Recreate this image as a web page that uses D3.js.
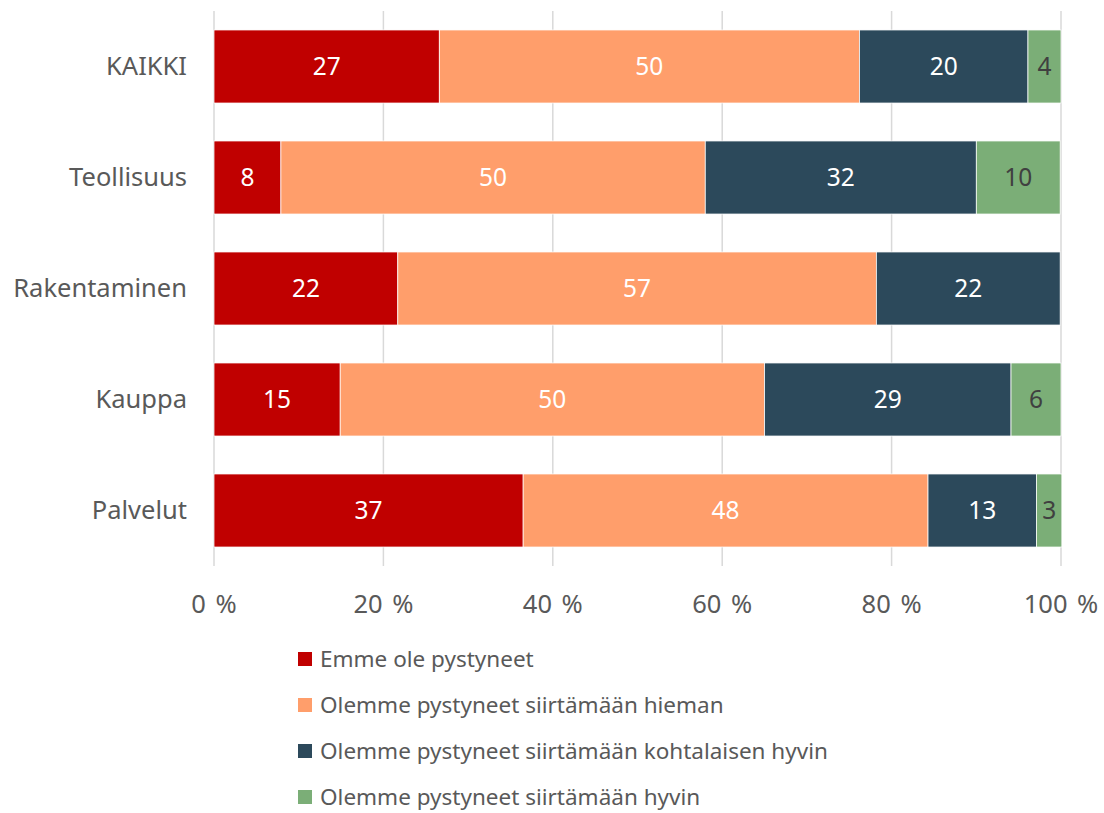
<!DOCTYPE html>
<html lang="fi">
<head>
<meta charset="utf-8">
<title>Siirtäminen toimialoittain</title>
<style>
  body { margin: 0; background: #fff; font-family: "Noto Sans", sans-serif; }
  svg text { fill: #595959; }
  .grid line { stroke: #d9d9d9; stroke-width: 1.5px; }
</style>
</head>
<body>
<svg></svg>
<script src="https://d3js.org/d3.v7.min.js"></script>
<script>
// categories, top to bottom
var categories = ["KAIKKI", "Teollisuus", "Rakentaminen", "Kauppa", "Palvelut"];

// series (shares in %)
var seriesNames = [
  "Emme ole pystyneet",
  "Olemme pystyneet siirtämään hieman",
  "Olemme pystyneet siirtämään kohtalaisen hyvin",
  "Olemme pystyneet siirtämään hyvin"
];
var emme     = [26.6, 7.9, 21.7, 14.9, 36.5];
var hieman   = [49.6, 50.1, 56.5, 50.1, 47.8];
var kohtal   = [19.9, 32.0, 21.7, 29.1, 12.8];
var hyvin    = [3.9, 9.9, 0, 5.9, 3.0];

var colors = ["#c00000", "#ff9e6b", "#2c495b", "#7bae77"];
var labelColors = ["#fff", "#fff", "#fff", "#404040"];

var ticks = [0, 20, 40, 60, 80, 100];

var width = 1104, height = 813;
var svg = d3.select("svg").attr("width", width).attr("height", height);

var x = d3.scaleLinear().domain([0, 100]).range([214, 1061]);
var y = d3.scaleBand().domain(categories).range([11, 566]).paddingInner(0.342).paddingOuter(0.171);

// build stack rows
var rows = categories.map(function(c, i) {
  return { cat: c, s0: emme[i], s1: hieman[i], s2: kohtal[i], s3: hyvin[i] };
});
var stack = d3.stack().keys(["s0", "s1", "s2", "s3"]);
var layers = stack(rows);

// gridlines
svg.append("g").attr("class", "grid")
  .selectAll("line")
  .data(ticks)
  .enter().append("line")
  .attr("x1", function(d) { return x(d); })
  .attr("x2", function(d) { return x(d); })
  .attr("y1", 11)
  .attr("y2", 566);

// bars
var layer = svg.append("g").selectAll("g")
  .data(layers)
  .enter().append("g")
  .attr("fill", function(d, i) { return colors[i]; });

layer.selectAll("rect")
  .data(function(d) { return d; })
  .enter().append("rect")
  .attr("x", function(d) { return x(d[0]); })
  .attr("y", function(d) { return y(d.data.cat); })
  .attr("width", function(d) { return x(d[1]) - x(d[0]); })
  .attr("height", y.bandwidth())
  .attr("stroke", "#fff")
  .attr("stroke-width", 0.75);

// data labels
layers.forEach(function(l, i) {
  svg.append("g").selectAll("text")
    .data(l.filter(function(d) { return d[1] - d[0] > 0; }))
    .enter().append("text")
    .attr("x", function(d) { return (x(d[0]) + x(d[1])) / 2; })
    .attr("y", function(d) { return y(d.data.cat) + y.bandwidth() / 2; })
    .attr("dy", "0.35em")
    .attr("text-anchor", "middle")
    .style("font-size", "24.5px")
    .style("fill", labelColors[i])
    .text(function(d) { return Math.round(d[1] - d[0]); });
});

// category labels
svg.append("g").selectAll("text")
  .data(categories)
  .enter().append("text")
  .attr("x", 187)
  .attr("y", function(d) { return y(d) + y.bandwidth() / 2; })
  .attr("dy", "0.35em")
  .attr("text-anchor", "end")
  .style("font-size", "25.5px")
  .text(function(d) { return d; });

// x tick labels
svg.append("g").selectAll("text")
  .data(ticks)
  .enter().append("text")
  .attr("x", function(d) { return x(d); })
  .attr("y", 604)
  .attr("dy", "0.35em")
  .attr("text-anchor", "middle")
  .style("font-size", "25.5px")
  .style("word-spacing", "3px")
  .text(function(d) { return d + " %"; });

// legend
var legend = svg.append("g").selectAll("g")
  .data(seriesNames)
  .enter().append("g")
  .attr("transform", function(d, i) { return "translate(298," + (659 + i * 46) + ")"; });

legend.append("rect")
  .attr("x", 0)
  .attr("y", -7)
  .attr("width", 14)
  .attr("height", 14)
  .attr("fill", function(d, i) { return colors[i]; });

legend.append("text")
  .attr("x", 22)
  .attr("dy", "0.35em")
  .style("font-size", "22.5px")
  .text(function(d) { return d; });
</script>
</body>
</html>
